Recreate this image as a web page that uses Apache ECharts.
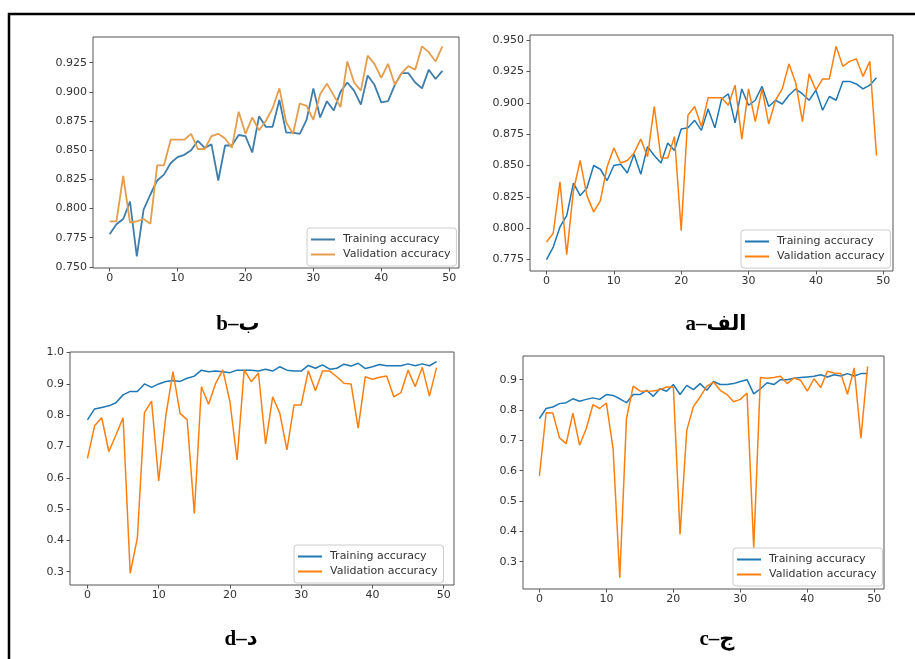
<!DOCTYPE html>
<html>
<head>
<meta charset="utf-8">
<script src="https://cdn.jsdelivr.net/npm/echarts@6/dist/echarts.min.js"></script>
<style>
html,body{margin:0;padding:0;background:#fff;}
#chart{width:915px;height:659px;}
</style>
</head>
<body>
<div id="chart"></div>
<script>
// ---- Data (accuracy per epoch, epochs 0..49) ----
const seriesNames = ['Training accuracy', 'Validation accuracy'];
const xTicks = [0, 10, 20, 30, 40, 50];

// Panel b (top-left)
const trainB = [0.778,0.7865,0.791,0.806,0.759,0.799,0.812,0.824,0.829,0.839,0.844,0.846,0.850,0.858,0.852,0.855,0.824,0.854,0.854,0.863,0.862,0.848,0.879,0.870,0.870,0.893,0.865,0.865,0.864,0.876,0.903,0.878,0.892,0.884,0.900,0.908,0.901,0.889,0.914,0.906,0.891,0.892,0.906,0.916,0.916,0.908,0.903,0.919,0.911,0.918];
const valB = [0.789,0.789,0.828,0.788,0.789,0.791,0.787,0.837,0.837,0.859,0.859,0.859,0.864,0.851,0.851,0.862,0.864,0.860,0.852,0.883,0.864,0.878,0.867,0.875,0.886,0.903,0.874,0.864,0.890,0.888,0.876,0.898,0.907,0.897,0.887,0.926,0.908,0.901,0.931,0.924,0.912,0.924,0.906,0.916,0.922,0.919,0.939,0.934,0.926,0.939];
const yTicksB = [0.750,0.775,0.800,0.825,0.850,0.875,0.900,0.925];

// Panel a (top-right)
const trainA = [0.775,0.785,0.801,0.810,0.836,0.826,0.832,0.850,0.847,0.838,0.850,0.851,0.844,0.859,0.843,0.865,0.858,0.852,0.868,0.862,0.879,0.880,0.886,0.878,0.895,0.880,0.903,0.907,0.884,0.911,0.898,0.902,0.913,0.897,0.902,0.899,0.906,0.911,0.907,0.902,0.910,0.894,0.905,0.902,0.917,0.917,0.915,0.911,0.914,0.920];
const valA = [0.789,0.796,0.837,0.779,0.830,0.854,0.826,0.813,0.822,0.849,0.864,0.852,0.854,0.860,0.871,0.857,0.897,0.856,0.856,0.873,0.798,0.890,0.897,0.881,0.904,0.904,0.904,0.898,0.914,0.871,0.911,0.885,0.911,0.883,0.902,0.911,0.931,0.916,0.885,0.923,0.910,0.919,0.919,0.945,0.929,0.933,0.935,0.921,0.933,0.858];
const yTicksA = [0.775,0.800,0.825,0.850,0.875,0.900,0.925,0.950];

// Panel d (bottom-left)
const trainD = [0.785,0.820,0.825,0.830,0.840,0.865,0.876,0.876,0.900,0.889,0.900,0.908,0.911,0.908,0.918,0.925,0.944,0.939,0.941,0.939,0.936,0.944,0.944,0.944,0.941,0.947,0.941,0.955,0.944,0.941,0.941,0.959,0.950,0.961,0.947,0.950,0.963,0.957,0.966,0.949,0.955,0.962,0.958,0.958,0.958,0.964,0.958,0.964,0.958,0.971];
const valD = [0.662,0.766,0.792,0.684,0.737,0.792,0.295,0.407,0.808,0.845,0.590,0.798,0.939,0.806,0.785,0.486,0.891,0.835,0.902,0.945,0.843,0.657,0.945,0.907,0.935,0.708,0.859,0.806,0.689,0.833,0.833,0.942,0.878,0.941,0.941,0.923,0.902,0.900,0.759,0.923,0.915,0.921,0.925,0.859,0.872,0.944,0.891,0.953,0.861,0.952];
const yTicksD = [0.3,0.4,0.5,0.6,0.7,0.8,0.9,1.0];

// Panel c (bottom-right)
const trainC = [0.772,0.805,0.810,0.821,0.824,0.837,0.829,0.835,0.840,0.835,0.851,0.848,0.837,0.824,0.851,0.851,0.865,0.845,0.870,0.862,0.884,0.851,0.881,0.867,0.887,0.865,0.894,0.884,0.884,0.887,0.894,0.900,0.853,0.870,0.890,0.884,0.900,0.900,0.905,0.907,0.909,0.911,0.916,0.909,0.916,0.912,0.920,0.912,0.920,0.920];
const valC = [0.583,0.791,0.790,0.708,0.689,0.790,0.684,0.739,0.818,0.805,0.823,0.673,0.247,0.772,0.879,0.863,0.862,0.863,0.867,0.876,0.876,0.390,0.733,0.812,0.843,0.879,0.892,0.865,0.851,0.827,0.835,0.856,0.345,0.907,0.905,0.907,0.911,0.887,0.905,0.898,0.862,0.903,0.874,0.928,0.922,0.920,0.852,0.939,0.706,0.944];
const yTicksC = [0.3,0.4,0.5,0.6,0.7,0.8,0.9];

const captions = ['b\u2013\u0628', 'a\u2013\u0627\u0644\u0641', 'd\u2013\u062F', 'c\u2013\u062C'];

// ---- Layout / style ----
const panels = [
  {train: trainB, val: valB, ticks: yTicksB, dec: 3, grid: {left: 93, top: 37, width: 366, height: 231}, ymin: 0.749, ymax: 0.947, colors: ['#3f7dab', '#e49d4c'], lw: 1.8, legend: {left: 307, top: 228}},
  {train: trainA, val: valA, ticks: yTicksA, dec: 3, grid: {left: 530, top: 35, width: 363, height: 236}, ymin: 0.7659, ymax: 0.954, colors: ['#1f77b4', '#ff7f0e'], lw: 1.5, legend: {left: 741, top: 230}},
  {train: trainD, val: valD, ticks: yTicksD, dec: 1, grid: {left: 70, top: 352, width: 384, height: 233}, ymin: 0.2575, ymax: 1.002, colors: ['#1f77b4', '#ff7f0e'], lw: 1.5, legend: {left: 294, top: 545}},
  {train: trainC, val: valC, ticks: yTicksC, dec: 1, grid: {left: 523, top: 356, width: 361, height: 233}, ymin: 0.210, ymax: 0.978, colors: ['#1f77b4', '#ff7f0e'], lw: 1.5, legend: {left: 733, top: 548}}
];
const captionPos = [[238, 325], [716, 325], [241, 640], [717, 640]];

const FONT = 'DejaVu Sans';
const grids = [], xAxes = [], yAxes = [], series = [], legends = [];
panels.forEach((p, k) => {
  grids.push(Object.assign({show: true, borderColor: '#555', borderWidth: 1, backgroundColor: '#fff'}, p.grid));
  xAxes.push({
    type: 'value', gridIndex: k, min: -2.45, max: 51.45, position: 'bottom',
    axisLine: {show: false, onZero: false},
    splitLine: {show: false},
    axisTick: {show: true, length: 3.5, customValues: xTicks, lineStyle: {color: '#555'}},
    axisLabel: {customValues: xTicks, margin: 5, fontSize: 11, color: '#333', fontFamily: FONT, formatter: v => String(Math.round(v))}
  });
  yAxes.push({
    type: 'value', gridIndex: k, min: p.ymin, max: p.ymax, position: 'left',
    axisLine: {show: false, onZero: false},
    splitLine: {show: false},
    axisTick: {show: true, length: 3.5, customValues: p.ticks, lineStyle: {color: '#555'}},
    axisLabel: {customValues: p.ticks, margin: 6, fontSize: 11, color: '#333', fontFamily: FONT, formatter: v => v.toFixed(p.dec)}
  });
  [p.train, p.val].forEach((arr, s) => {
    series.push({
      type: 'line', name: seriesNames[s], xAxisIndex: k, yAxisIndex: k,
      data: arr.map((v, i) => [i, v]),
      symbol: 'none', showSymbol: false, clip: true,
      lineStyle: {width: p.lw, color: p.colors[s]},
      itemStyle: {color: p.colors[s]},
      z: 2 + s
    });
  });
  legends.push({
    orient: 'vertical', left: p.legend.left, top: p.legend.top,
    padding: [5, 6, 5, 4], itemGap: 2, itemWidth: 24, itemHeight: 2, icon: 'rect',
    backgroundColor: 'rgba(255,255,255,0.85)', borderColor: '#ccc', borderWidth: 1, borderRadius: 3,
    selectedMode: false,
    textStyle: {fontSize: 11, lineHeight: 13, color: '#333', fontFamily: FONT, padding: [0, 0, 0, 3]},
    data: seriesNames.map((n, s) => ({name: n, icon: 'rect', itemStyle: {color: p.colors[s], borderWidth: 0}})),
    z: 10
  });
});

const graphics = [
  {type: 'rect', shape: {x: 9, y: 14, width: 1000, height: 1000}, style: {fill: 'none', stroke: '#000', lineWidth: 2.5}, silent: true, z: 0}
];
captions.forEach((t, k) => {
  graphics.push({
    type: 'text', x: captionPos[k][0], y: captionPos[k][1],
    style: {text: t, fill: '#000', font: 'bold 21px "Liberation Serif", "DejaVu Sans", serif', align: 'center', verticalAlign: 'middle'},
    silent: true
  });
});

const chart = echarts.init(document.getElementById('chart'), null, {renderer: 'canvas'});
chart.setOption({
  animation: false,
  backgroundColor: '#fff',
  grid: grids,
  xAxis: xAxes,
  yAxis: yAxes,
  legend: legends,
  series: series,
  graphic: graphics
});
</script>
</body>
</html>
